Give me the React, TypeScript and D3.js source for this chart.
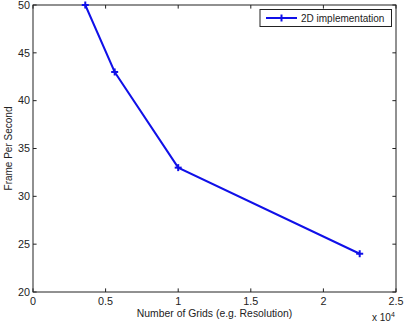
import { useEffect, useRef } from 'react'
import * as d3 from 'd3'

// data
const gridCounts = [3600, 5625, 10000, 22500]
const fpsValues = [50, 43, 33, 24]
const xTicks = [0, 0.5, 1, 1.5, 2, 2.5]
const yTicks = [20, 25, 30, 35, 40, 45, 50]
const seriesName = '2D implementation'

export default function App() {
  const svgRef = useRef<SVGSVGElement>(null)

  useEffect(() => {
    if (!svgRef.current) return
    const width = 406
    const height = 324
    const margin = { top: 5, right: 10, bottom: 32, left: 33 }
    const font = 'Liberation Sans, Arial, sans-serif'
    const blue = '#1010e8'

    const svg = d3.select(svgRef.current)
    svg.selectAll('*').remove()
    svg.attr('width', width).attr('height', height)

    const x = d3.scaleLinear().domain([0, 2.5]).range([margin.left, width - margin.right])
    const y = d3.scaleLinear().domain([20, 50]).range([height - margin.bottom, margin.top])

    const x0 = x.range()[0], x1 = x.range()[1]
    const y0 = y.range()[0], y1 = y.range()[1]
    const tick = 3.6

    // axes box
    svg.append('rect')
      .attr('x', x0).attr('y', y1)
      .attr('width', x1 - x0).attr('height', y0 - y1)
      .attr('fill', 'white').attr('stroke', '#222').attr('stroke-width', 1)

    // x ticks (inward, mirrored on top)
    const gx = svg.append('g')
    xTicks.forEach(t => {
      const px = x(t)
      gx.append('line').attr('x1', px).attr('x2', px).attr('y1', y0).attr('y2', y0 - tick).attr('stroke', '#222')
      gx.append('line').attr('x1', px).attr('x2', px).attr('y1', y1).attr('y2', y1 + tick).attr('stroke', '#222')
      gx.append('text')
        .attr('x', px).attr('y', y0 + 13)
        .attr('text-anchor', 'middle')
        .style('font-family', font).style('font-size', '10.8px').attr('fill', '#222')
        .text(String(t))
    })

    const gy = svg.append('g')
    yTicks.forEach(t => {
      const py = y(t)
      gy.append('line').attr('x1', x0).attr('x2', x0 + tick).attr('y1', py).attr('y2', py).attr('stroke', '#222')
      gy.append('line').attr('x1', x1).attr('x2', x1 - tick).attr('y1', py).attr('y2', py).attr('stroke', '#222')
      gy.append('text')
        .attr('x', x0 - 3).attr('y', py + 3.8)
        .attr('text-anchor', 'end')
        .style('font-family', font).style('font-size', '10.8px').attr('fill', '#222')
        .text(String(t))
    })

    // axis labels
    svg.append('text')
      .attr('x', (x0 + x1) / 2).attr('y', y0 + 25)
      .attr('text-anchor', 'middle')
      .style('font-family', font).style('font-size', '10.4px').attr('fill', '#222')
      .text('Number of Grids (e.g. Resolution)')

    svg.append('text')
      .attr('transform', `translate(12, ${(y0 + y1) / 2}) rotate(-90)`)
      .attr('text-anchor', 'middle')
      .style('font-family', font).style('font-size', '10px').attr('fill', '#222')
      .text('Frame Per Second')

    const exp = svg.append('text')
      .attr('x', x1 - 24).attr('y', y0 + 29)
      .style('font-family', font).style('font-size', '10px').attr('fill', '#222')
    exp.append('tspan').text('x 10')
    exp.append('tspan').attr('dy', -4).style('font-size', '7px').text('4')

    // series
    const pts = gridCounts.map((g, i) => [x(g / 10000), y(fpsValues[i])] as [number, number])
    svg.append('path')
      .datum(pts)
      .attr('d', d3.line())
      .attr('fill', 'none').attr('stroke', blue).attr('stroke-width', 2)

    const m = 3.5
    const plus = (g: d3.Selection<SVGGElement, unknown, null, undefined>, cx: number, cy: number) => {
      g.append('line').attr('x1', cx - m).attr('x2', cx + m).attr('y1', cy).attr('y2', cy).attr('stroke', blue).attr('stroke-width', 2)
      g.append('line').attr('x1', cx).attr('x2', cx).attr('y1', cy - m).attr('y2', cy + m).attr('stroke', blue).attr('stroke-width', 2)
    }
    const markers = svg.append('g')
    pts.forEach(([px, py]) => plus(markers, px, py))

    // legend
    const lg = svg.append('g')
    lg.append('rect')
      .attr('x', 260).attr('y', 9.5).attr('width', 131.5).attr('height', 17)
      .attr('fill', 'white').attr('stroke', '#222').attr('stroke-width', 1)
    lg.append('line').attr('x1', 266).attr('x2', 297).attr('y1', 18).attr('y2', 18).attr('stroke', blue).attr('stroke-width', 2)
    plus(lg, 281.5, 18)
    lg.append('text')
      .attr('x', 301).attr('y', 21.5)
      .style('font-family', font).style('font-size', '10px').attr('fill', '#222')
      .text(seriesName)
  }, [])

  return (
    <div style={{ position: 'absolute', left: 0, top: 0 }}>
      <svg ref={svgRef} style={{ display: 'block' }}></svg>
    </div>
  )
}
